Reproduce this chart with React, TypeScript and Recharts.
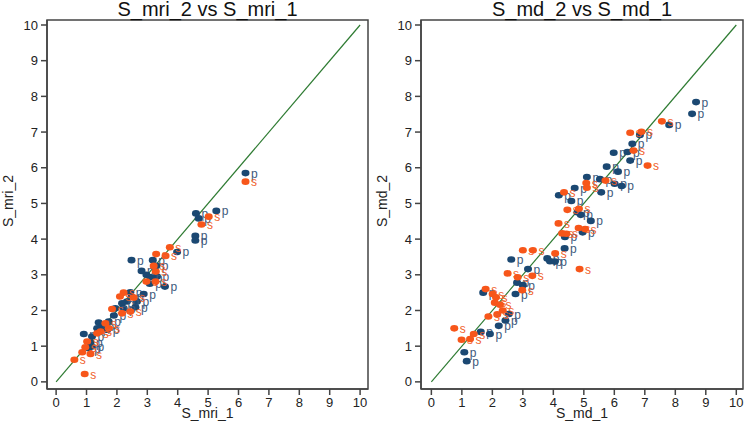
import React from "react"
import {
  ScatterChart,
  Scatter,
  XAxis,
  YAxis,
  ReferenceLine,
  ReferenceArea,
} from "recharts"

// values, [x, y]
const mriP = [
  [6.23, 5.85], [4.6, 4.72], [5.27, 4.79], [4.69, 4.58], [4.58, 4.09], [4.58, 3.96],
  [3.98, 3.64], [2.48, 3.41], [3.18, 3.41], [3.29, 3.25], [2.81, 3.11], [2.97, 3.0],
  [3.32, 2.95], [3.1, 2.93], [3.08, 2.75], [3.58, 2.67], [2.44, 2.51], [2.88, 2.46],
  [2.48, 2.39], [2.66, 2.25], [2.33, 2.25], [2.17, 2.2], [2.61, 2.09], [2.22, 2.06],
  [1.95, 2.06], [1.9, 1.86], [1.73, 1.69], [1.4, 1.66], [1.51, 1.55], [1.35, 1.5],
  [1.68, 1.46], [0.91, 1.34], [1.18, 1.27], [1.13, 1.1], [1.18, 0.99], [1.07, 0.94],
]
const mriS = [
  [6.23, 5.61], [5.02, 4.63], [4.78, 4.41], [3.74, 3.77], [3.6, 3.53], [3.29, 3.58],
  [3.21, 3.25], [3.28, 3.09], [2.97, 2.81], [3.27, 2.81], [2.22, 2.5], [2.55, 2.36],
  [2.1, 2.39], [1.84, 2.04], [2.44, 1.97], [2.17, 1.92], [1.62, 1.64], [1.73, 1.5],
  [1.46, 1.41], [1.35, 1.36], [1.02, 1.13], [0.96, 0.97], [0.86, 0.83], [1.13, 0.78],
  [0.6, 0.62], [0.94, 0.22],
]
const mdP = [
  [8.68, 7.84], [8.55, 7.51], [7.8, 7.2], [6.84, 6.92], [6.59, 6.67], [5.98, 6.42],
  [6.43, 6.44], [6.52, 6.2], [5.75, 6.03], [6.12, 5.89], [5.1, 5.74], [5.53, 5.68],
  [6.01, 5.55], [6.24, 5.49], [4.7, 5.43], [4.18, 5.23], [5.57, 5.31], [4.59, 5.07],
  [4.79, 4.75], [4.9, 4.68], [5.23, 4.51], [4.96, 4.19], [4.38, 4.06], [4.37, 3.74],
  [3.8, 3.46], [3.89, 3.38], [4.05, 3.37], [2.62, 3.43], [3.17, 3.16], [2.81, 2.78],
  [3.0, 2.71], [2.76, 2.46], [1.7, 2.5], [2.54, 1.9], [2.43, 1.72], [2.21, 1.57],
  [1.62, 1.4], [1.92, 1.34], [1.08, 0.83], [1.16, 0.58],
]
const mdS = [
  [7.56, 7.3], [6.52, 6.98], [6.89, 7.01], [6.63, 6.48], [7.09, 6.06], [5.08, 5.57],
  [5.71, 5.64], [5.1, 5.44], [4.35, 5.31], [4.46, 4.82], [4.84, 4.85], [4.17, 4.44],
  [4.83, 4.31], [5.04, 4.28], [4.29, 4.16], [4.43, 4.15], [4.06, 3.6], [3.0, 3.69],
  [3.33, 3.69], [4.86, 3.16], [2.5, 3.04], [2.83, 2.93], [3.31, 2.97], [2.98, 2.57],
  [1.78, 2.6], [2.01, 2.46], [2.12, 2.37], [2.08, 2.22], [2.25, 2.16], [2.34, 2.0],
  [2.16, 1.89], [1.87, 1.83], [0.75, 1.5], [1.39, 1.34], [0.99, 1.18], [1.27, 1.2],
]
const ticks = [0, 1, 2, 3, 4, 5, 6, 7, 8, 9, 10]

const NAVY = "#1b4872"
const ORANGE = "#f7561a"
const FONT = "'Liberation Sans', Arial, sans-serif"

const toPoints = (arr: number[][]) => arr.map(([x, y]) => ({ x, y }))

function dot(fill: string, label: string, labelColor: string) {
  return (props: any) => {
    const { cx, cy } = props
    return (
      <g>
        <ellipse cx={cx} cy={cy} rx={4} ry={3.3} fill={fill} />
        <text x={cx + 5.5} y={cy + 4.5} fontSize={12} fill={labelColor} fontFamily={FONT}>
          {label}
        </text>
      </g>
    )
  }
}

type PanelProps = {
  title: string
  xLabel: string
  yLabel: string
  p: number[][]
  s: number[][]
  xDomain: [number, number]
  left: number
  right: number
  yLabelX: number
}

function Panel({ title, xLabel, yLabel, p, s, xDomain, left, right, yLabelX }: PanelProps) {
  const yDomain: [number, number] = [-0.2, 10.14]
  const plotLeft = left + 30
  const plotCenter = (plotLeft + 373 - right) / 2
  return (
    <div style={{ position: "relative", width: 373, height: 421 }}>
      <ScatterChart width={373} height={421} margin={{ top: 20, right, bottom: 0, left }}>
        <XAxis
          type="number"
          dataKey="x"
          domain={xDomain}
          ticks={ticks}
          interval={0}
          allowDataOverflow
          height={32}
          tickSize={6}
          tickMargin={3}
          stroke="#444"
          strokeWidth={1.5}
          tick={{ fill: "#222", fontSize: 13, fontFamily: FONT }}
        />
        <YAxis
          type="number"
          dataKey="y"
          domain={yDomain}
          ticks={ticks}
          interval={0}
          allowDataOverflow
          width={30}
          tickSize={6}
          tickMargin={3}
          stroke="#444"
          strokeWidth={1.5}
          tick={{ fill: "#222", fontSize: 13, fontFamily: FONT }}
        />
        <ReferenceArea
          x1={xDomain[0]}
          x2={xDomain[1]}
          y1={yDomain[0]}
          y2={yDomain[1]}
          fill="none"
          stroke="#444"
          strokeWidth={1.5}
        />
        <ReferenceLine
          segment={[
            { x: 0, y: 0 },
            { x: 10, y: 10 },
          ]}
          stroke="#2e7b32"
          strokeWidth={1.2}
        />
        <Scatter data={toPoints(p)} isAnimationActive={false} shape={dot(NAVY, "p", "#3d5a7c")} />
        <Scatter data={toPoints(s)} isAnimationActive={false} shape={dot(ORANGE, "s", "#f0602a")} />
      </ScatterChart>
      <div
        style={{
          position: "absolute",
          top: -1,
          left: plotCenter - 150,
          width: 300,
          textAlign: "center",
          fontSize: 20,
          lineHeight: "20px",
          fontFamily: FONT,
          color: "#111",
        }}
      >
        {title}
      </div>
      <div
        style={{
          position: "absolute",
          top: 405,
          left: plotCenter - 100,
          width: 200,
          textAlign: "center",
          fontSize: 14,
          lineHeight: "16px",
          fontFamily: FONT,
          color: "#222",
        }}
      >
        {xLabel}
      </div>
      <div
        style={{
          position: "absolute",
          top: 193,
          left: yLabelX - 100,
          width: 200,
          textAlign: "center",
          fontSize: 14,
          lineHeight: "16px",
          fontFamily: FONT,
          color: "#222",
          transform: "rotate(-90deg)",
        }}
      >
        {yLabel}
      </div>
    </div>
  )
}

export default function App() {
  return (
    <div
      style={{
        position: "absolute",
        left: 0,
        top: 0,
        width: 746,
        height: 421,
        background: "#fff",
        display: "flex",
        overflow: "hidden",
      }}
    >
      <Panel
        title="S_mri_2 vs S_mri_1"
        xLabel="S_mri_1"
        yLabel="S_mri_2"
        p={mriP}
        s={mriS}
        xDomain={[-0.3, 10.26]}
        left={17}
        right={5}
        yLabelX={8}
      />
      <Panel
        title="S_md_2 vs S_md_1"
        xLabel="S_md_1"
        yLabel="S_md_2"
        p={mdP}
        s={mdS}
        xDomain={[-0.34, 10.22]}
        left={18}
        right={3}
        yLabelX={9}
      />
    </div>
  )
}
